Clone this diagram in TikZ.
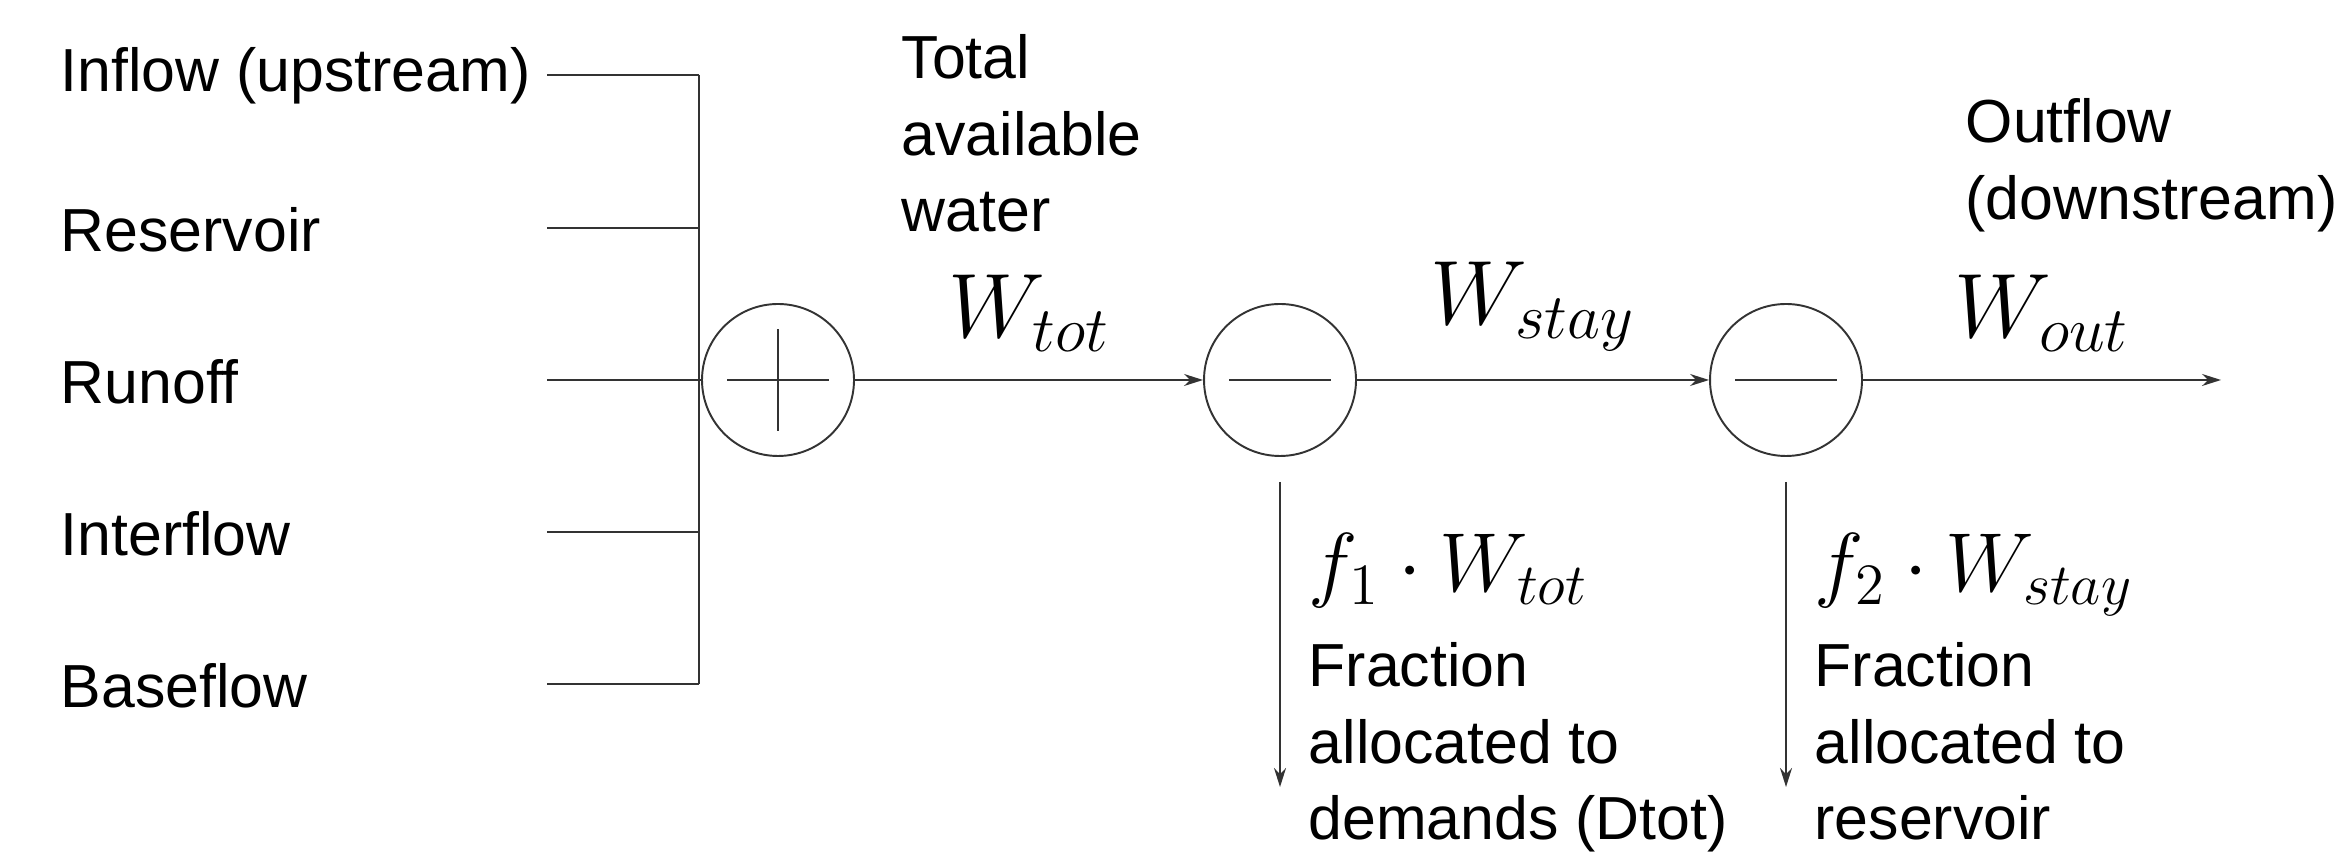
\documentclass[tikz,border=0pt]{standalone}
\RequirePackage{fix-cm}
\usepackage[no-math]{fontspec}
\setmainfont{Liberation Sans}
\usetikzlibrary{arrows.meta,positioning,calc}
\tikzset{
    sumnode/.style={circle,draw=black!80,line width=0.55pt,minimum size=15.2mm,inner sep=0pt},
    wire/.style={draw=black!80,line width=0.55pt},
    flow/.style={wire,-{Stealth[length=1.9mm,width=1.2mm]}},
    inlabel/.style={anchor=base west,inner sep=0pt,font=\fontsize{17.3}{21.8}\selectfont},
    txtblock/.style={align=left,anchor=north west,inner sep=0pt,font=\fontsize{17.3}{21.8}\selectfont},
    flowlabel/.style={midway,above=2.8mm,inner sep=0pt,font=\fontsize{26}{30}\selectfont},
    fraclabel/.style={anchor=base west,inner sep=0pt,font=\fontsize{23.8}{28}\selectfont}
}
\begin{document}
\begin{tikzpicture}
    \useasboundingbox (0,0) rectangle (23.36,8.52);
    % sources
    \node[inlabel] (inflow) at (0.60,7.60) {Inflow (upstream)};
    \node[inlabel] (reservoir) at (0.60,6.00) {Reservoir};
    \node[inlabel] (runoff) at (0.60,4.48) {Runoff};
    \node[inlabel] (interflow) at (0.60,2.96) {Interflow};
    \node[inlabel] (baseflow) at (0.60,1.44) {Baseflow};
    \coordinate (s1) at (5.47,7.77);
    \coordinate (s2) at (5.47,6.24);
    \coordinate (s3) at (5.47,4.72);
    \coordinate (s4) at (5.47,3.20);
    \coordinate (s5) at (5.47,1.68);
    \coordinate (bustop) at (6.99,7.77);
    \coordinate (busbot) at (6.99,1.68);
    % summation and splits
    \node[sumnode] (plus) at (7.78,4.72) {};
    \node[sumnode] (minusA) at (12.80,4.72) {};
    \node[sumnode] (minusB) at (17.86,4.72) {};
    \draw[wire] ($(plus)+(-0.51,0)$) -- ($(plus)+(0.51,0)$);
    \draw[wire] ($(plus)+(0,-0.51)$) -- ($(plus)+(0,0.51)$);
    \draw[wire] ($(minusA)+(-0.51,0)$) -- ($(minusA)+(0.51,0)$);
    \draw[wire] ($(minusB)+(-0.51,0)$) -- ($(minusB)+(0.51,0)$);
    \draw[wire] (bustop) -- (busbot);
    \draw[wire] (s1) -- (s1 -| bustop);
    \draw[wire] (s2) -- (s2 -| bustop);
    \draw[wire] (s3) -- (plus.west);
    \draw[wire] (s4) -- (s4 -| bustop);
    \draw[wire] (s5) -- (s5 -| bustop);
    \coordinate (outend) at (22.21,4.72);
    \draw[flow] (plus.east) -- node[flowlabel] {$W_{tot}$} (minusA.west);
    \draw[flow] (minusA.east) -- node[flowlabel] {$W_{stay}$} (minusB.west);
    \draw[flow] (minusB.east) -- node[flowlabel] {$W_{out}$} (outend);
    \coordinate (dA) at ($(minusA.south)+(0,-0.25)$);
    \coordinate (dB) at ($(minusB.south)+(0,-0.25)$);
    \coordinate (dAend) at (12.80,0.65);
    \coordinate (dBend) at (17.86,0.65);
    \draw[flow] (dA) -- (dAend);
    \draw[flow] (dB) -- (dBend);
    % texts
    \node[txtblock] (total) at (9.01,8.18) {Total\\available\\water};
    \node[txtblock] (outflow) at (19.65,7.54) {Outflow\\(downstream)};
    \node[fraclabel] (fA) at (13.08,2.60) {$f_1\cdot W_{tot}$};
    \node[fraclabel] (fB) at (18.14,2.60) {$f_2\cdot W_{stay}$};
    \node[txtblock] (fracA) at (13.08,2.10) {Fraction\\allocated to\\demands (Dtot)};
    \node[txtblock] (fracB) at (18.14,2.10) {Fraction\\allocated to\\reservoir};
\end{tikzpicture}
\end{document}
